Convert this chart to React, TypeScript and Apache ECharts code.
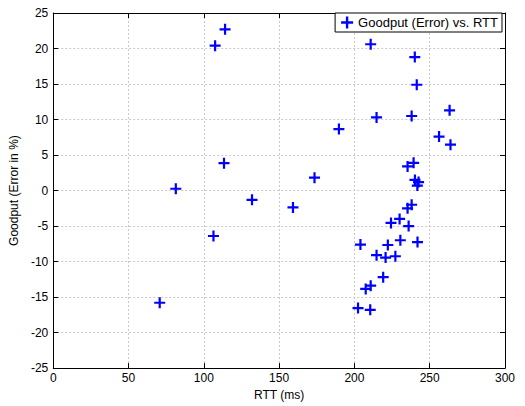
import React, { useEffect, useRef } from "react";
import * as echarts from "echarts";

const rttMs: number[] = [
  70.7, 81.4, 106.4, 107.5, 114.1, 113.4, 132.0, 159.2, 173.5, 189.7,
  210.8, 214.7, 240.1, 241.4, 238.0, 263.2, 256.2, 263.8, 239.3, 235.3,
  240.2, 242.6, 241.8, 238.0, 235.3, 230.0, 224.3, 236.0, 204.0, 222.2,
  230.5, 241.9, 214.7, 220.7, 227.2, 219.1, 207.5, 210.8, 202.4, 210.5,
];
const goodputError: number[] = [
  -15.8, 0.25, -6.4, 20.4, 22.7, 3.86, -1.3, -2.37, 1.81, 8.65,
  20.6, 10.3, 18.8, 14.9, 10.5, 11.3, 7.6, 6.46, 3.9, 3.4,
  1.5, 1.2, 0.7, -2.0, -2.5, -4.0, -4.56, -5.0, -7.6, -7.67,
  -7.0, -7.25, -9.1, -9.44, -9.25, -12.2, -13.85, -13.4, -16.55, -16.8,
];
const seriesName = "Goodput (Error) vs. RTT";
const xTitle = "RTT (ms)";
const yTitle = "Goodput (Error in %)";

const PLUS = "path://M4,0H6V4H10V6H6V10H4V6H0V4H4Z";
const FONT = "Liberation Sans, Arial, sans-serif";

export default function App() {
  const ref = useRef<HTMLDivElement>(null);
  useEffect(() => {
    if (!ref.current) return;
    const chart = echarts.init(ref.current, undefined, { renderer: "svg" });
    const data = rttMs.map((x, i) => [x, goodputError[i]]);
    const hiddenAxis = {
      axisLine: { show: true, onZero: false, lineStyle: { color: "#000", width: 1 } },
      axisTick: { show: true, inside: true, length: 5, lineStyle: { color: "#000" } },
      axisLabel: { show: false },
      splitLine: { show: false },
    };
    chart.setOption({
      animation: false,
      backgroundColor: "#fff",
      textStyle: { fontFamily: FONT },
      grid: { left: 49, right: 20, top: 13, bottom: 35, containLabel: false },
      legend: {
        show: true,
        right: 23,
        top: 13,
        orient: "horizontal",
        backgroundColor: "#fff",
        borderColor: "#000",
        borderWidth: 1,
        borderRadius: 0,
        padding: [3, 4, 3, 6],
        itemWidth: 12,
        itemHeight: 12,
        itemGap: 6,
        textStyle: { fontSize: 13, color: "#000", fontFamily: FONT },
        itemStyle: { opacity: 1 },
        data: [{ name: seriesName, icon: PLUS }],
      },
      xAxis: [
        {
          type: "value",
          min: 0,
          max: 300,
          interval: 50,
          name: xTitle,
          nameLocation: "middle",
          nameGap: 15,
          nameTextStyle: { fontSize: 12, color: "#000", fontFamily: FONT },
          axisLine: { show: true, onZero: false, lineStyle: { color: "#000", width: 1 } },
          axisTick: { show: true, inside: true, length: 5, lineStyle: { color: "#000" } },
          axisLabel: { fontSize: 12, color: "#000", margin: 4, fontFamily: FONT },
          splitLine: { show: true, lineStyle: { color: "#c8c8c8", type: [2, 2], width: 1 } },
        },
        { type: "value", position: "top", min: 0, max: 300, interval: 50, ...hiddenAxis },
      ],
      yAxis: [
        {
          type: "value",
          min: -25,
          max: 25,
          interval: 5,
          name: yTitle,
          nameLocation: "middle",
          nameGap: 24,
          nameTextStyle: { fontSize: 12, color: "#000", fontFamily: FONT },
          axisLine: { show: true, onZero: false, lineStyle: { color: "#000", width: 1 } },
          axisTick: { show: true, inside: true, length: 5, lineStyle: { color: "#000" } },
          axisLabel: { fontSize: 12, color: "#000", margin: 5, fontFamily: FONT },
          splitLine: { show: true, lineStyle: { color: "#c8c8c8", type: [2, 2], width: 1 } },
        },
        { type: "value", position: "right", min: -25, max: 25, interval: 5, ...hiddenAxis },
      ],
      series: [
        {
          name: seriesName,
          type: "scatter",
          xAxisIndex: 0,
          yAxisIndex: 0,
          symbol: PLUS,
          symbolSize: 11,
          itemStyle: { color: "#0000ff", opacity: 1 },
          data,
        },
      ],
    });
    return () => chart.dispose();
  }, []);
  return <div ref={ref} style={{ width: 525, height: 406, position: "absolute", left: 0, top: 0 }} />;
}
